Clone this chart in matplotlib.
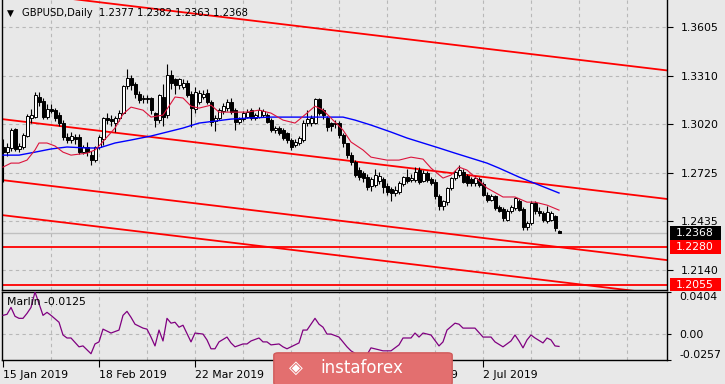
import matplotlib
matplotlib.use('Agg')
import matplotlib.pyplot as plt
from matplotlib.patches import Rectangle, FancyBboxPatch
from matplotlib.transforms import blended_transform_factory
import numpy as np

# --- data (GBPUSD daily) ---
date_ticks = [0, 24, 48, 72, 96, 120]
date_labels = ['15 Jan 2019', '18 Feb 2019', '22 Mar 2019', '25 Apr 2019', '29 May 2019', '2 Jul 2019']

opens = [1.2880, 1.2852, 1.2877, 1.2990, 1.2870, 1.2885, 1.2950, 1.3055, 1.3065, 1.3185,
         1.3160, 1.3065, 1.3110, 1.3105, 1.3075, 1.3030, 1.2945, 1.2925, 1.2943, 1.2945,
         1.2855, 1.2885, 1.2835, 1.2805, 1.2880, 1.2930, 1.3055, 1.3052, 1.3030, 1.3055,
         1.3090, 1.3250, 1.3300, 1.3260, 1.3205, 1.3170, 1.3180, 1.3175, 1.3085, 1.3045,
         1.3185, 1.3075, 1.3315, 1.3290, 1.3255, 1.3245, 1.3270, 1.3205, 1.3110, 1.3155,
         1.3185, 1.3210, 1.3155, 1.3040, 1.3055, 1.3100, 1.3120, 1.3155, 1.3105, 1.3035,
         1.3050, 1.3065, 1.3105, 1.3055, 1.3065, 1.3075, 1.3075, 1.3045, 1.2985, 1.3000,
         1.2985, 1.2965, 1.2925, 1.2895, 1.2905, 1.2925, 1.3025, 1.3025, 1.3030, 1.3170,
         1.3105, 1.3060, 1.3025, 1.3020, 1.3025, 1.2955, 1.2905, 1.2835, 1.2790, 1.2745,
         1.2725, 1.2705, 1.2650, 1.2655, 1.2680, 1.2690, 1.2650, 1.2630, 1.2605, 1.2610,
         1.2660, 1.2700, 1.2685, 1.2685, 1.2745, 1.2680, 1.2725, 1.2690, 1.2675, 1.2590,
         1.2525, 1.2550, 1.2635, 1.2695, 1.2715, 1.2730, 1.2710, 1.2690, 1.2665, 1.2690,
         1.2660, 1.2595, 1.2565, 1.2585, 1.2520, 1.2510, 1.2445, 1.2495, 1.2515, 1.2555,
         1.2510, 1.2400, 1.2425, 1.2545, 1.2500, 1.2485, 1.2440, 1.2445, 1.2465, 1.2377]
highs = [1.2930, 1.2905, 1.3000, 1.3000, 1.2905, 1.2965, 1.3080, 1.3110, 1.3215, 1.3215,
         1.3180, 1.3140, 1.3140, 1.3120, 1.3095, 1.3045, 1.2965, 1.2975, 1.2960, 1.2960,
         1.2895, 1.2915, 1.2860, 1.2890, 1.2955, 1.3065, 1.3085, 1.3075, 1.3070, 1.3105,
         1.3255, 1.3350, 1.3315, 1.3275, 1.3220, 1.3195, 1.3195, 1.3185, 1.3095, 1.3200,
         1.3260, 1.3380, 1.3345, 1.3300, 1.3300, 1.3290, 1.3285, 1.3220, 1.3245, 1.3225,
         1.3225, 1.3230, 1.3165, 1.3075, 1.3115, 1.3145, 1.3170, 1.3175, 1.3115, 1.3065,
         1.3100, 1.3110, 1.3120, 1.3090, 1.3125, 1.3110, 1.3090, 1.3055, 1.3010, 1.3010,
         1.2995, 1.2975, 1.2935, 1.2930, 1.2950, 1.3045, 1.3105, 1.3075, 1.3180, 1.3175,
         1.3115, 1.3070, 1.3035, 1.3045, 1.3040, 1.2965, 1.2910, 1.2850, 1.2805, 1.2765,
         1.2740, 1.2720, 1.2705, 1.2750, 1.2730, 1.2700, 1.2665, 1.2645, 1.2650, 1.2680,
         1.2710, 1.2750, 1.2720, 1.2760, 1.2760, 1.2745, 1.2740, 1.2705, 1.2690, 1.2600,
         1.2565, 1.2640, 1.2705, 1.2745, 1.2775, 1.2750, 1.2720, 1.2705, 1.2710, 1.2700,
         1.2670, 1.2610, 1.2600, 1.2595, 1.2535, 1.2520, 1.2510, 1.2535, 1.2580, 1.2570,
         1.2520, 1.2440, 1.2555, 1.2555, 1.2520, 1.2495, 1.2525, 1.2500, 1.2475, 1.2382]
lows = [1.2670, 1.2830, 1.2860, 1.2860, 1.2855, 1.2870, 1.2945, 1.3030, 1.3060, 1.3130,
        1.3050, 1.3050, 1.3085, 1.3040, 1.3010, 1.2925, 1.2905, 1.2910, 1.2900, 1.2840,
        1.2840, 1.2830, 1.2775, 1.2790, 1.2870, 1.2895, 1.3020, 1.3010, 1.2975, 1.3040,
        1.3080, 1.3235, 1.3225, 1.3180, 1.3150, 1.3150, 1.3145, 1.3080, 1.3005, 1.3030,
        1.3010, 1.3060, 1.3230, 1.3205, 1.3235, 1.3230, 1.3185, 1.3005, 1.3085, 1.3140,
        1.3170, 1.3140, 1.3010, 1.2980, 1.3045, 1.3080, 1.3100, 1.3080, 1.2985, 1.3020,
        1.3040, 1.3055, 1.3045, 1.3045, 1.3055, 1.3065, 1.3025, 1.2975, 1.2970, 1.2955,
        1.2925, 1.2910, 1.2865, 1.2880, 1.2895, 1.2915, 1.3010, 1.3010, 1.3020, 1.3075,
        1.3050, 1.2980, 1.2980, 1.3000, 1.2940, 1.2885, 1.2815, 1.2775, 1.2700, 1.2685,
        1.2675, 1.2625, 1.2620, 1.2640, 1.2660, 1.2605, 1.2595, 1.2555, 1.2590, 1.2600,
        1.2650, 1.2665, 1.2675, 1.2670, 1.2660, 1.2670, 1.2670, 1.2655, 1.2570, 1.2505,
        1.2505, 1.2535, 1.2625, 1.2685, 1.2705, 1.2665, 1.2650, 1.2650, 1.2650, 1.2640,
        1.2585, 1.2550, 1.2555, 1.2505, 1.2490, 1.2440, 1.2440, 1.2485, 1.2505, 1.2495,
        1.2385, 1.2385, 1.2415, 1.2480, 1.2470, 1.2430, 1.2425, 1.2435, 1.2375, 1.2363]
closes = [1.2855, 1.2880, 1.2985, 1.2870, 1.2890, 1.2955, 1.3070, 1.3075, 1.3195, 1.3155,
          1.3065, 1.3110, 1.3100, 1.3055, 1.3030, 1.2945, 1.2925, 1.2950, 1.2932, 1.2855,
          1.2880, 1.2850, 1.2805, 1.2880, 1.2945, 1.3055, 1.3045, 1.3040, 1.3055, 1.3090,
          1.3250, 1.3300, 1.3255, 1.3205, 1.3165, 1.3180, 1.3170, 1.3105, 1.3045, 1.3195,
          1.3065, 1.3315, 1.3270, 1.3255, 1.3290, 1.3270, 1.3195, 1.3115, 1.3215, 1.3210,
          1.3205, 1.3155, 1.3035, 1.3055, 1.3105, 1.3130, 1.3155, 1.3095, 1.3035, 1.3050,
          1.3085, 1.3095, 1.3055, 1.3075, 1.3105, 1.3100, 1.3035, 1.2985, 1.2995, 1.2970,
          1.2935, 1.2925, 1.2885, 1.2912, 1.2935, 1.3030, 1.3050, 1.3055, 1.3170, 1.3090,
          1.3075, 1.3005, 1.3010, 1.3030, 1.2955, 1.2905, 1.2835, 1.2790, 1.2715, 1.2700,
          1.2695, 1.2640, 1.2690, 1.2715, 1.2710, 1.2645, 1.2615, 1.2605, 1.2625, 1.2665,
          1.2700, 1.2680, 1.2698, 1.2730, 1.2675, 1.2725, 1.2685, 1.2665, 1.2585, 1.2525,
          1.2555, 1.2635, 1.2695, 1.2730, 1.2745, 1.2675, 1.2665, 1.2668, 1.2695, 1.2655,
          1.2595, 1.2565, 1.2585, 1.2515, 1.2500, 1.2455, 1.2500, 1.2520, 1.2575, 1.2505,
          1.2400, 1.2425, 1.2545, 1.2495, 1.2485, 1.2445, 1.2490, 1.2485, 1.2395, 1.2368]

# fast moving average (thin crimson)
fast_ma_bars = [0, 2, 4, 6, 8, 9, 11, 13, 15, 17, 19, 21, 23, 24, 26, 28, 30, 32, 35, 37,
                40, 42, 43, 45, 47, 49, 52, 54, 57, 61, 64, 67, 70, 73, 76, 78, 80, 82, 85, 87,
                90, 92, 96, 99, 102, 105, 107, 110, 112, 114, 116, 118, 121, 125, 128, 131, 133, 136, 139]
fast_ma = [1.2762, 1.2786, 1.2786, 1.2804, 1.2865, 1.2907, 1.2907, 1.2889, 1.2852, 1.2834,
           1.2840, 1.2846, 1.2865, 1.2889, 1.2943, 1.2997, 1.3081, 1.3123, 1.3105, 1.3063,
           1.3075, 1.3147, 1.3184, 1.3178, 1.3129, 1.3117, 1.3135, 1.3093, 1.3093, 1.3093,
           1.3105, 1.3087, 1.3045, 1.3027, 1.3087, 1.3129, 1.3105, 1.3057, 1.2985, 1.2913,
           1.2865, 1.2822, 1.2804, 1.2804, 1.2822, 1.2810, 1.2756, 1.2696, 1.2714, 1.2762,
           1.2744, 1.2702, 1.2636, 1.2582, 1.2582, 1.2551, 1.2551, 1.2533, 1.2503]

# slow moving average (blue)
slow_ma_bars = [0, 4, 8, 12, 16, 21, 24, 28, 32, 37, 41, 45, 49, 53, 57, 61, 67, 76, 85, 88,
                92, 97, 101, 105, 109, 113, 117, 121, 124, 129, 134, 139]
slow_ma = [1.2834, 1.2834, 1.2852, 1.2871, 1.2883, 1.2877, 1.2877, 1.2907, 1.2925, 1.2949,
           1.2973, 1.2997, 1.3027, 1.3039, 1.3051, 1.3057, 1.3063, 1.3063, 1.3063, 1.3045,
           1.3015, 1.2973, 1.2937, 1.2907, 1.2877, 1.2846, 1.2816, 1.2786, 1.2756, 1.2702,
           1.2654, 1.2606]

# descending channel lines: price at left and right edge of the window
channel_bars = [-0.25, 166]
channel_lines = [[1.3825, 1.3344],
                 [1.3051, 1.2570],
                 [1.2684, 1.2202],
                 [1.2473, 1.1993]]
levels = [1.2280, 1.2055]
price_ticks = [1.3605, 1.3310, 1.3020, 1.2725, 1.2435, 1.2140]

# Marlin oscillator
marlin_bars = [0, 1, 2, 3, 4, 5, 6, 7, 8, 9, 10, 11, 12, 14, 15, 16, 17, 19, 20, 21,
               22, 23, 24, 25, 26, 27, 29, 30, 31, 32, 33, 35, 36, 37, 38, 39, 40, 41, 42, 43,
               44, 45, 47, 48, 50, 51, 52, 53, 54, 56, 57, 58, 60, 61, 62, 64, 65, 66, 67, 69,
               70, 71, 72, 74, 75, 76, 78, 79, 80, 81, 82, 84, 86, 87, 89, 90, 91, 92, 94, 95,
               97, 99, 100, 102, 103, 104, 105, 107, 109, 110, 111, 113, 114, 115, 117, 118, 120, 122, 123, 125,
               127, 128, 129, 130, 131, 132, 133, 135, 136, 137, 138, 139]
marlin = [0.0177, 0.0187, 0.0254, 0.0168, 0.0148, 0.0148, 0.0196, 0.0254, 0.0404, 0.0292,
          0.0177, 0.0206, 0.0177, 0.0110, -0.0014, -0.0043, -0.0043, -0.0129, -0.0120, -0.0158,
          -0.0196, -0.0101, -0.0081, 0.0043, 0.0024, 0.0005, 0.0034, 0.0177, 0.0216, 0.0158,
          0.0091, 0.0053, 0.0043, -0.0034, -0.0120, 0.0034, -0.0072, 0.0148, 0.0101, 0.0110,
          0.0062, 0.0081, -0.0081, 0.0005, -0.0005, -0.0062, -0.0148, -0.0148, -0.0081, -0.0034,
          -0.0091, -0.0129, -0.0101, -0.0101, -0.0072, -0.0043, -0.0081, -0.0081, -0.0110, -0.0101,
          -0.0129, -0.0148, -0.0129, -0.0091, 0.0034, 0.0034, 0.0148, 0.0091, 0.0062, -0.0005,
          -0.0005, -0.0034, -0.0129, -0.0168, -0.0216, -0.0257, -0.0206, -0.0139, -0.0158, -0.0168,
          -0.0168, -0.0110, -0.0043, -0.0043, 0.0005, -0.0034, 0.0005, -0.0014, -0.0120, -0.0081,
          0.0034, 0.0101, 0.0091, 0.0053, 0.0053, 0.0053, -0.0034, -0.0034, -0.0081, -0.0129,
          -0.0072, -0.0014, -0.0072, -0.0139, -0.0062, -0.0014, -0.0043, -0.0091, -0.0043, -0.0062,
          -0.0120, -0.0125]
marlin_ticks = [0.0404, 0.0, -0.0257]
marlin_tick_labels = ['0.0404', '0.00', '-0.0257']

W, H = 725, 384
BG = '#e8e8e8'
GRID = '#b8b8b8'


def frame(left, top, right, bottom):
    # pixel box -> figure fraction
    return [left / W, 1 - bottom / H, (right - left) / W, (bottom - top) / H]


def draw_candles(ax, o, h, l, c):
    o, h, l, c = map(np.array, (o, h, l, c))
    x = np.arange(len(c))
    up = c >= o
    bottom = np.minimum(o, c)
    height = np.maximum(np.abs(c - o), 0.0003)
    ax.vlines(x, l, h, color='black', lw=0.8, zorder=3)
    ax.bar(x[up], height[up], bottom=bottom[up], width=0.75, color='white',
           edgecolor='black', linewidth=0.7, zorder=4)
    ax.bar(x[~up], height[~up], bottom=bottom[~up], width=0.75, color='black',
           edgecolor='black', linewidth=0.7, zorder=4)


def price_box(ax, price, text, color):
    tr = blended_transform_factory(ax.transAxes, ax.transData)
    half = 0.0042
    ax.add_patch(Rectangle((1.0045, price - half), 0.076, 2 * half, transform=tr,
                           facecolor=color, edgecolor='none', clip_on=False, zorder=10))
    ax.text(1.013, price, text, transform=tr, color='white', fontsize=7.8,
            va='center', ha='left', clip_on=False, zorder=11)


def main():
    fig = plt.figure(figsize=(W / 100, H / 100), dpi=100, facecolor=BG)
    ax = fig.add_axes(frame(2, 0, 667, 290), facecolor=BG)
    ax2 = fig.add_axes(frame(2, 292, 667, 360), facecolor=BG, sharex=ax)

    xmin, xmax = -0.25, 166
    ax.set_xlim(xmin, xmax)
    ax.set_ylim(1.2022, 1.3768)
    ax2.set_ylim(-0.0257, 0.0404)

    # grid
    for b in range(12, 166, 12):
        ax.axvline(b, color=GRID, lw=0.8, ls=(0, (3, 3)), zorder=0)
        ax2.axvline(b, color=GRID, lw=0.8, ls=(0, (3, 3)), zorder=0)
    for p in price_ticks:
        ax.axhline(p, color=GRID, lw=0.8, ls=(0, (3, 3)), zorder=0)
    ax2.axhline(0, color=GRID, lw=0.8, ls=(0, (3, 3)), zorder=0)

    # bid line and levels
    ax.axhline(closes[-1], color='#c0c0c0', lw=1.0, zorder=1)
    for lv in levels:
        ax.axhline(lv, color='#ff0000', lw=1.3, zorder=2)
    for line in channel_lines:
        ax.plot(channel_bars, line, color='#ff0000', lw=1.3, zorder=2)

    ax.plot(slow_ma_bars, slow_ma, color='#0000ff', lw=1.0, zorder=5)
    ax.plot(fast_ma_bars, fast_ma, color='#dc143c', lw=0.8, zorder=5)
    draw_candles(ax, opens, highs, lows, closes)

    # price axis on the right
    ax.yaxis.tick_right()
    ax.set_yticks(price_ticks)
    ax.set_yticklabels([f'{p:.4f}' for p in price_ticks])
    ax.tick_params(axis='y', direction='out', length=4, width=0.8, pad=6,
                   labelsize=7.8, colors='black')
    ax.tick_params(axis='x', bottom=False, labelbottom=False)
    ax.spines['top'].set_visible(False)
    for s in ('left', 'right', 'bottom'):
        ax.spines[s].set_color('black')
        ax.spines[s].set_linewidth(1.0)

    price_box(ax, closes[-1], f'{closes[-1]:.4f}', 'black')
    for lv in levels:
        price_box(ax, lv, f'{lv:.4f}', '#ff0000')

    fig.text(7 / W, 1 - 13 / H, '\u25bc', fontsize=6.5, va='center', ha='left', color='black')
    fig.text(22 / W, 1 - 13 / H,
             f'GBPUSD,Daily  {opens[-1]:.4f} {highs[-1]:.4f} {lows[-1]:.4f} {closes[-1]:.4f}',
             fontsize=7.2, va='center', ha='left', color='black')

    # Marlin panel
    ax2.plot(marlin_bars, marlin, color='#800080', lw=0.9, zorder=3)
    ax2.yaxis.tick_right()
    ax2.set_yticks(marlin_ticks)
    ax2.set_yticklabels(marlin_tick_labels)
    ax2.tick_params(axis='y', direction='out', length=3, width=0.8, pad=6,
                    labelsize=7.8, colors='black')
    ylabels = ax2.get_yticklabels()
    ylabels[0].set_va('top')
    ylabels[-1].set_va('bottom')
    ax2.set_xticks(date_ticks)
    ax2.set_xticklabels(date_labels, ha='left')
    ax2.tick_params(axis='x', direction='out', length=5, width=0.8, pad=2,
                    labelsize=7.8, colors='black')
    for s in ax2.spines.values():
        s.set_color('black')
        s.set_linewidth(1.0)
    ax2.text(0.008, 0.86, f'Marlin {marlin[-1]:.4f}', transform=ax2.transAxes,
             fontsize=7.8, va='center', ha='left', color='black', zorder=6)

    # watermark (covers part of the date axis, as in the screenshot)
    fig.patches.append(FancyBboxPatch((276 / W, 0), 174 / W, 30 / H,
                                      boxstyle='round,pad=0.003,rounding_size=0.006',
                                      transform=fig.transFigure, facecolor='#e36f6f',
                                      edgecolor='#d05a5a', lw=1.0, zorder=20))
    fig.text(296 / W, 1 - 368 / H, '\u25c8', fontsize=13, color='white',
             va='center', ha='center', zorder=21)
    fig.text(362 / W, 1 - 368 / H, 'instaforex', fontsize=12, color='white',
             va='center', ha='center', zorder=21)

    fig.savefig('out.png', dpi=100, facecolor=BG)


if __name__ == '__main__':
    main()
